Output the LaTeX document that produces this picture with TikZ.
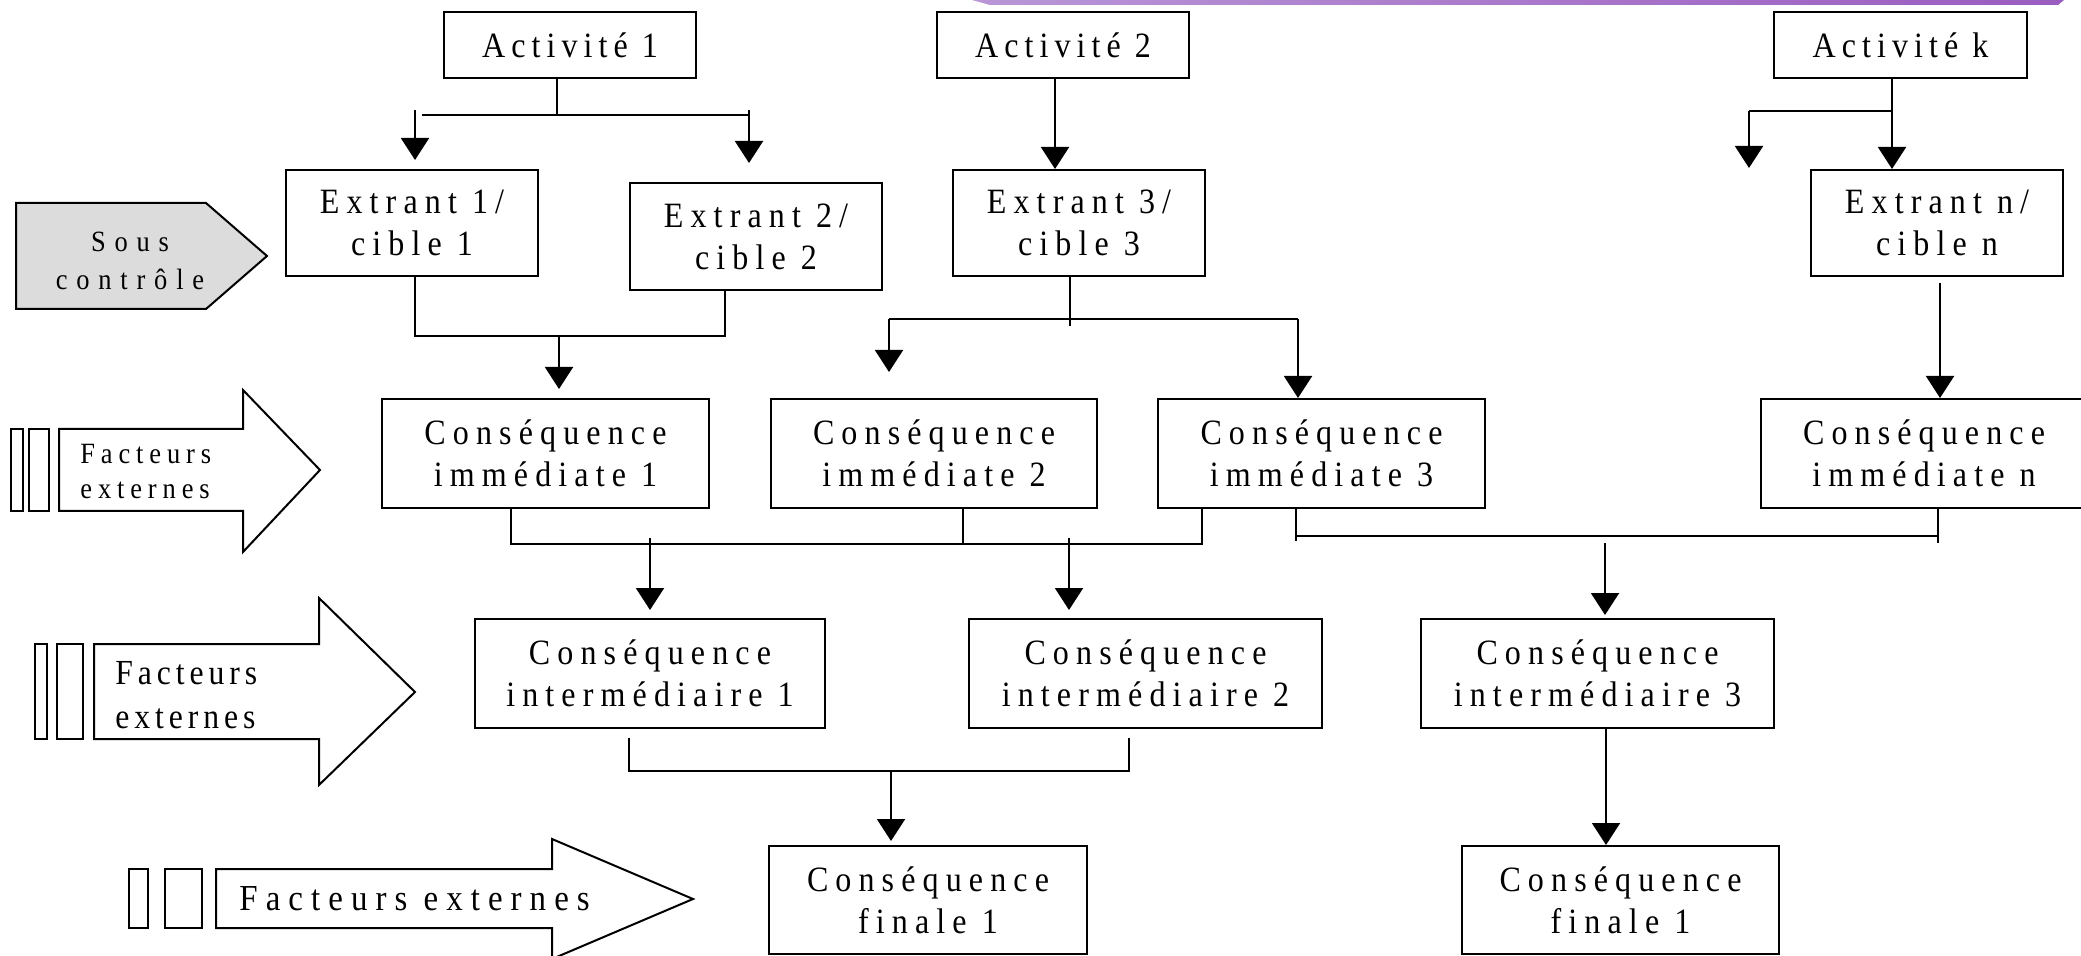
\documentclass[tikz,border=0pt]{standalone}
\usepackage{fontspec}
\setmainfont{Liberation Serif}[FakeStretch=0.9,LetterSpace=20]
\usetikzlibrary{arrows.meta,calc}
\definecolor{purA}{HTML}{B996D6}
\definecolor{purB}{HTML}{9A5CC0}
\definecolor{scgray}{HTML}{DCDCDC}
\begin{document}
\begin{tikzpicture}[x=0.5pt,y=-0.5pt,
  box/.style={draw, line width=1pt, anchor=north west, inner sep=0pt, align=center,
    font=\fontsize{17.8}{21}\selectfont},
  actbox/.style={box, font=\fontsize{17.8}{21}\selectfont\addfontfeature{LetterSpace=17}},
  arr/.style={line width=1pt, -{Triangle[width=14pt,length=11pt]}},
  con/.style={line width=1pt},
  blk/.style={draw, line width=1pt, fill=white, line join=miter},
  ftxt/.style={align=left, anchor=west, inner sep=0pt}]
\useasboundingbox (0,0) rectangle (2081,956);
% purple band at top
\shade[left color=purA, right color=purB] (972,0) -- (2064,0) -- (2058,5) -- (990,5) -- cycle;

% ---- boxes ----
\node[actbox, minimum width=126pt, minimum height=33pt] (act1) at (443,11) {Activité 1};
\node[actbox, minimum width=126pt, minimum height=33pt] (act2) at (936,11) {Activité 2};
\node[actbox, minimum width=126.5pt, minimum height=33pt] (actk) at (1773,11) {Activité k};

\node[box, minimum width=126pt, minimum height=53pt] (ext1) at (285,169) {Extrant 1/\\cible 1};
\node[box, minimum width=126pt, minimum height=53.5pt] (ext2) at (629,182) {Extrant 2/\\cible 2};
\node[box, minimum width=126pt, minimum height=53pt] (ext3) at (952,169) {Extrant 3/\\cible 3};
\node[box, minimum width=126pt, minimum height=53pt] (extn) at (1810,169) {Extrant n/\\cible n};

\node[box, minimum width=163.5pt, minimum height=54.5pt] (ci1) at (381,398) {Conséquence\\immédiate 1};
\node[box, minimum width=163pt, minimum height=54.5pt] (ci2) at (770,398) {Conséquence\\immédiate 2};
\node[box, minimum width=163.5pt, minimum height=54.5pt] (ci3) at (1157,398) {Conséquence\\immédiate 3};
\node[box, minimum width=163pt, minimum height=54.5pt] (cin) at (1760,398) {Conséquence\\immédiate n};

\node[box, minimum width=175pt, minimum height=54.5pt] (cint1) at (474,618) {Conséquence\\intermédiaire 1};
\node[box, minimum width=176.5pt, minimum height=54.5pt] (cint2) at (968,618) {Conséquence\\intermédiaire 2};
\node[box, minimum width=176.5pt, minimum height=54.5pt] (cint3) at (1420,618) {Conséquence\\intermédiaire 3};

\node[box, minimum width=159pt, minimum height=54pt] (cf1) at (768,845) {Conséquence\\finale 1};
\node[box, minimum width=158.5pt, minimum height=54pt] (cf2) at (1461,845) {Conséquence\\finale 1};

% ---- left side shapes ----
\draw[line width=1pt, fill=scgray] (16,203) -- (206,203) -- (267,256) -- (206,309) -- (16,309) -- cycle;
\node[align=center, inner sep=0pt, font=\fontsize{14.7}{19}\selectfont\addfontfeature{LetterSpace=30}] (sc) at (130,261) {Sous\\contrôle};

\draw[blk] (11,429) rectangle (23,511);
\draw[blk] (29,429) rectangle (49,511);
\draw[blk] (59,429) -- (243,429) -- (243,390) -- (320,470) -- (243,552) -- (243,511) -- (59,511) -- cycle;
\node[ftxt, font=\fontsize{14.7}{17.5}\selectfont] (fe1) at (80,472) {Facteurs\\externes};

\draw[blk] (35,644) rectangle (47,739);
\draw[blk] (57,644) rectangle (83,739);
\draw[blk] (94,644) -- (319,644) -- (319,598) -- (415,692) -- (319,785) -- (319,739) -- (94,739) -- cycle;
\node[ftxt, font=\fontsize{17.6}{22}\selectfont\addfontfeature{LetterSpace=14}] (fe2) at (115,695) {Facteurs\\externes};

\draw[blk] (129,869) rectangle (148,928);
\draw[blk] (165,869) rectangle (202,928);
\draw[blk] (216,869) -- (552,869) -- (552,839) -- (693,899) -- (552,959) -- (552,928) -- (216,928) -- cycle;
\node[ftxt, font=\fontsize{18.3}{21}\selectfont\addfontfeature{LetterSpace=22}] (fe3) at (239,899) {Facteurs externes};

% ---- connectors ----
% Activite 1
\coordinate (a1j) at (557,115);
\coordinate (a1l) at (422,115);
\coordinate (a1r) at (749,115);
\coordinate (a1ls) at (415,110);
\coordinate (a1rs) at (749,110);
\draw[con] (act1.south -| a1j) -- (a1j);
\draw[con] (a1l) -- (a1r);
\draw[arr, shorten >=4.5pt] (a1ls) -- (ext1.north -| a1ls);
\draw[arr, shorten >=9.5pt] (a1rs) -- (ext2.north -| a1rs);
% Activite 2
\coordinate (a2x) at (1055,0);
\draw[arr] (act2.south -| a2x) -- (ext3.north -| a2x);
% Activite k
\coordinate (akx) at (1892,111);
\coordinate (akl) at (1749,111);
\coordinate (aklt) at (1749,168);
\draw[arr] (actk.south -| akx) -- (extn.north -| akx);
\draw[con] (akl) -- (akx);
\draw[arr] (akl) -- (aklt);
% Extrant 1 & 2
\coordinate (e1x) at (415,336);
\coordinate (e2x) at (725,336);
\coordinate (e12) at (559,336);
\draw[con] (ext1.south -| e1x) -- (e1x) -- (e2x) -- (ext2.south -| e2x);
\draw[arr, shorten >=4.5pt] (e12) -- (ci1.north -| e12);
% Extrant 3
\coordinate (e3j) at (1070,326);
\coordinate (e3l) at (889,319);
\coordinate (e3r) at (1298,319);
\draw[con] (ext3.south -| e3j) -- (e3j);
\draw[con] (e3l) -- (e3r);
\draw[arr, shorten >=13pt] (e3l) -- (ci2.north -| e3l);
\draw[arr] (e3r) -- (ci3.north -| e3r);
% Extrant n
\coordinate (enx) at (1940,283);
\draw[arr] (enx) -- (cin.north -| enx);
% immediate 1,2,3 merge
\coordinate (m1a) at (511,544);
\coordinate (m1b) at (963,544);
\coordinate (m1c) at (1202,544);
\coordinate (m1d) at (650,538);
\coordinate (m1e) at (1069,538);
\draw[con] (ci1.south -| m1a) -- (m1a) -- (m1c) -- (ci3.south -| m1c);
\draw[con] (ci2.south -| m1b) -- (m1b);
\draw[arr, shorten >=4pt] (m1d) -- (cint1.north -| m1d);
\draw[arr, shorten >=4pt] (m1e) -- (cint2.north -| m1e);
% immediate 3 & n merge
\coordinate (m2a) at (1296,536);
\coordinate (m2b) at (1938,536);
\coordinate (m2as) at (1296,541);
\coordinate (m2bs) at (1938,543);
\coordinate (m2c) at (1605,543);
\draw[con] (ci3.south -| m2a) -- (m2as);
\draw[con] (cin.south -| m2b) -- (m2bs);
\draw[con] (m2a) -- (m2b);
\draw[arr, shorten >=1.5pt] (m2c) -- (cint3.north -| m2c);
% intermediate 1 & 2 merge
\coordinate (m3a) at (629,771);
\coordinate (m3b) at (1129,771);
\coordinate (m3c) at (891,771);
\draw[con] ($(cint1.south -| m3a)+(0,9)$) -- (m3a) -- (m3b) -- ($(cint2.south -| m3b)+(0,9)$);
\draw[arr, shorten >=2pt] (m3c) -- (cf1.north -| m3c);
% intermediate 3 -> finale
\coordinate (c3x) at (1606,0);
\draw[arr] (cint3.south -| c3x) -- (cf2.north -| c3x);
\end{tikzpicture}
\end{document}
